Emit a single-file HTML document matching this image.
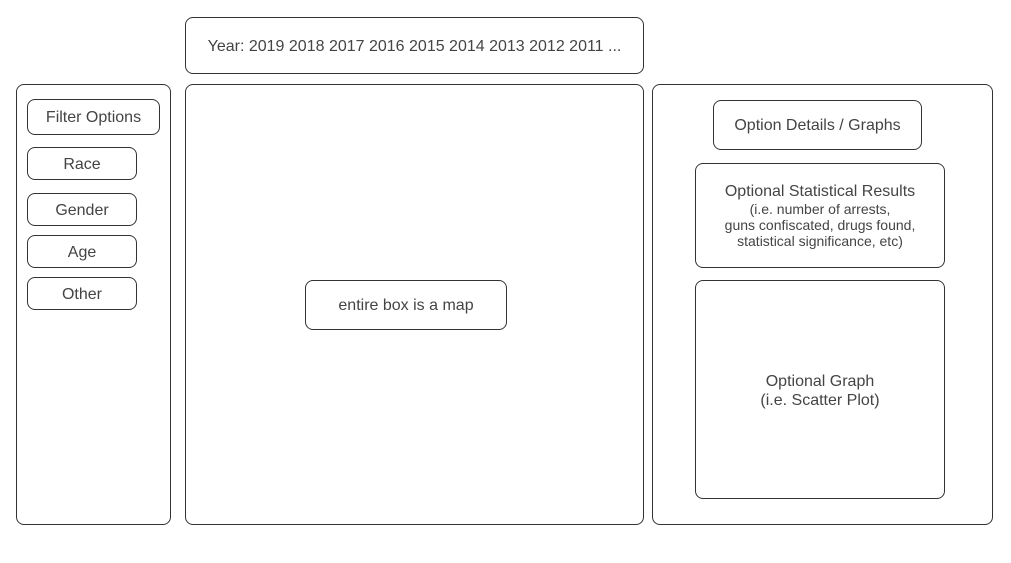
<!DOCTYPE html>
<html><head><style>
body{margin:0;width:1011px;height:563px;background:#fff;position:relative;font-family:"Liberation Sans",sans-serif;color:#444;overflow:hidden}
.b{position:absolute;border:1px solid #333;border-radius:8px;box-sizing:border-box;display:flex;align-items:center;justify-content:center;text-align:center;font-size:16px;padding-top:2px}
</style></head><body>
<div class="b" style="left:185px;top:17px;width:459px;height:57px">Year: 2019 2018 2017 2016 2015 2014 2013 2012 2011 ...</div>
<div class="b" style="left:16px;top:84px;width:155px;height:441px"></div>
<div class="b" style="left:185px;top:84px;width:459px;height:441px"></div>
<div class="b" style="left:652px;top:84px;width:341px;height:441px"></div>
<div class="b" style="left:27px;top:99px;width:133px;height:36px">Filter Options</div>
<div class="b" style="left:27px;top:147px;width:110px;height:33px">Race</div>
<div class="b" style="left:27px;top:193px;width:110px;height:33px">Gender</div>
<div class="b" style="left:27px;top:235px;width:110px;height:33px">Age</div>
<div class="b" style="left:27px;top:277px;width:110px;height:33px">Other</div>
<div class="b" style="left:305px;top:280px;width:202px;height:50px">entire box is a map</div>
<div class="b" style="left:713px;top:100px;width:209px;height:50px">Option Details / Graphs</div>
<div class="b" style="left:695px;top:163px;width:250px;height:105px;flex-direction:column;line-height:16px"><div style="font-size:16px;margin-bottom:1px">Optional Statistical Results</div><div style="font-size:14px">(i.e. number of arrests,<br>guns confiscated, drugs found,<br>statistical significance, etc)</div></div>
<div class="b" style="left:695px;top:280px;width:250px;height:219px;line-height:19px">Optional Graph<br>(i.e. Scatter Plot)</div>
</body></html>
